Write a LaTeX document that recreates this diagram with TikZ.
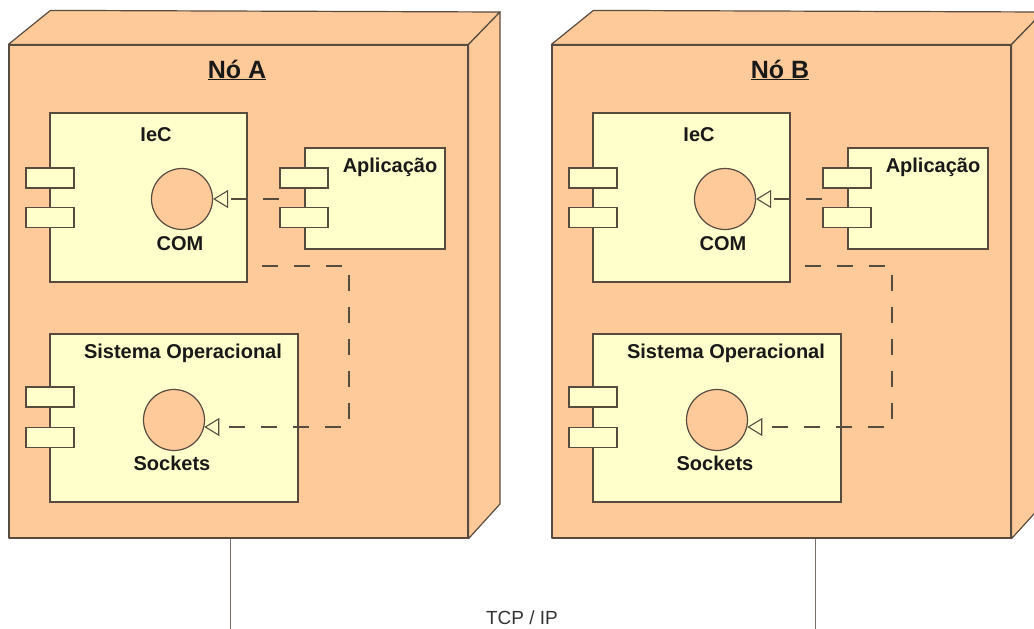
\documentclass[tikz,border=0pt]{standalone}
\usepackage{fontspec}
\setmainfont{Liberation Sans}
\usetikzlibrary{arrows.meta,positioning,calc}
\definecolor{cNode}{HTML}{FFCA99}
\definecolor{cComp}{HTML}{FFFFCC}
\definecolor{cLine}{HTML}{574B40}
\tikzset{
  face/.style={draw=cLine,fill=cNode,line width=1.2pt,line join=round},
  comp/.style={draw=cLine,fill=cComp,line width=1.2pt,inner sep=0pt},
  port/.style={comp,minimum width=48pt,minimum height=20pt},
  iface/.style={circle,draw=cLine,fill=cNode,line width=1.2pt,
                inner sep=0pt,minimum size=61pt},
  lbl/.style={font=\fontsize{20}{23}\selectfont\bfseries,inner sep=0pt,
              anchor=base,text=black!90},
  title/.style={font=\fontsize{25}{28}\selectfont\bfseries,inner sep=0pt,
              anchor=base,text=black!90},
  dep/.style={draw=cLine,line width=1.1pt,dash pattern=on 16pt off 16pt,
              -{Triangle[open,length=15pt,width=18pt]}},
  wire/.style={draw=cLine!80,line width=1pt},
}

\begin{document}
\begin{tikzpicture}[x=1pt,y=-1pt]
  \useasboundingbox (0,0) rectangle (1034,629);
  \clip (0,0) rectangle (1034,629);
  % two deployment nodes, same inner layout
  \foreach \n/\dx/\wx in {A/0/230,B/543/272}{
  \begin{scope}[xshift=\dx pt]
    % 3d box
    \node[face,inner sep=0pt,minimum width=459pt,minimum height=493pt]
      (front\n) at (238.5,291.5){};
    \draw[face] (front\n.north west) -- ++(42,-34) -- (500,12)
      -- (front\n.north east) -- cycle;
    \draw[face] (front\n.north east) -- (500,12) -- (500,504)
      -- (front\n.south east) -- cycle;
    \node[title] (title\n) at (237,78){\underline{Nó \n}};
    % IeC
    \node[comp,minimum width=197pt,minimum height=169pt] (iec\n) at (148.5,197.5){};
    \node[port] (iecpa\n) at (50,178){};
    \node[port] (iecpb\n) at (50,217.5){};
    \node[lbl] (iecl\n) at (156,141){IeC};
    \node[iface] (com\n) at (182,199){};
    \node[lbl] (coml\n) at (180,250){COM};
    % Aplicacao
    \node[comp,minimum width=140pt,minimum height=101pt] (app\n) at (375,198.5){};
    \node[port] (apppa\n) at (304,178){};
    \node[port] (apppb\n) at (304,217.5){};
    \node[lbl] (appl\n) at (390,172){Aplicação};
    % Sistema Operacional
    \node[comp,minimum width=248pt,minimum height=168pt] (so\n) at (174,418){};
    \node[port] (sopa\n) at (50,397){};
    \node[port] (sopb\n) at (50,437.5){};
    \node[lbl] (sol\n) at (183,358){Sistema Operacional};
    \node[iface] (sock\n) at (174,420){};
    \node[lbl] (sockl\n) at (172,470){Sockets};
    % dependencies
    \draw[dep] (apppa\n.west |- com\n) -- (com\n.east);
    \coordinate (iecout\n) at (262,266);
    \coordinate (bend\n) at (349,266);
    \draw[dep] (iecout\n) -- (bend\n) |- (sock\n.-13);
    % link down to the network
    \coordinate (bus\n) at (\wx,640);
    \draw[wire] (bus\n |- front\n.south) -- (bus\n);
  \end{scope}
  }
  \node[font=\fontsize{19}{22}\selectfont,inner sep=0pt,anchor=base,
        text=black!80] (tcp) at (522,624){TCP / IP};
\end{tikzpicture}
\end{document}
